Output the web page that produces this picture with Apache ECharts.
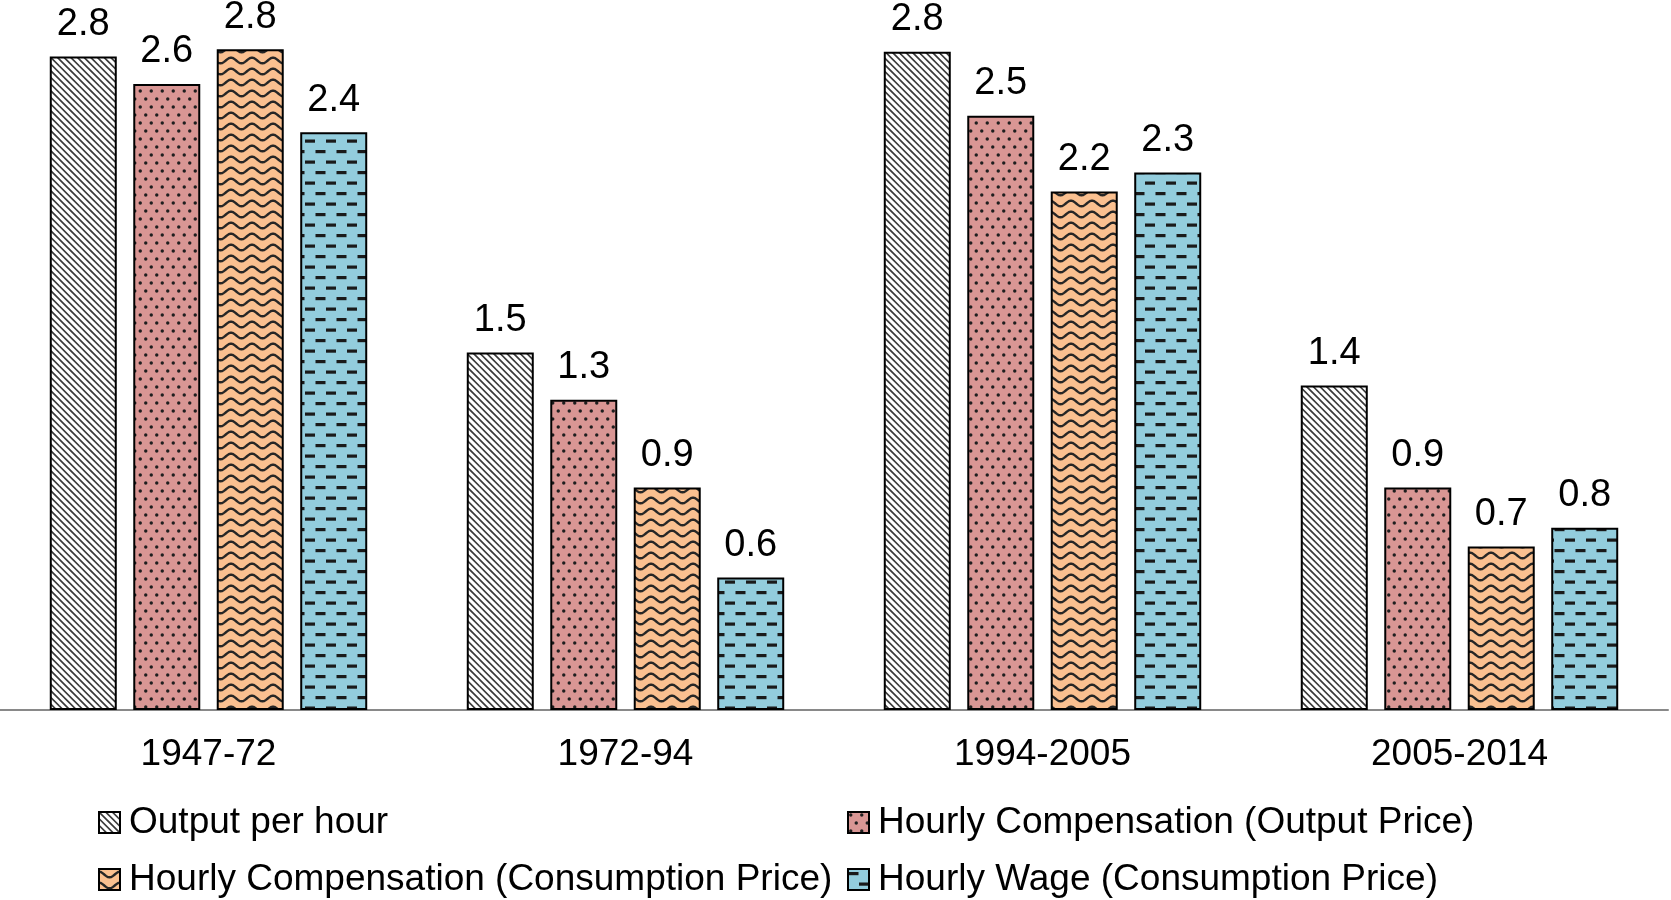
<!DOCTYPE html>
<html>
<head>
<meta charset="utf-8">
<script src="https://cdn.jsdelivr.net/npm/echarts@6/dist/echarts.min.js"></script>
<style>
html,body{margin:0;padding:0;background:#fff;}
#chart{width:1671px;height:900px;}
</style>
</head>
<body>
<div id="chart"></div>
<script>
// ---- data ----
const categories = ['1947-72', '1972-94', '1994-2005', '2005-2014'];
const seriesNames = [
  'Output per hour',
  'Hourly Compensation (Output Price)',
  'Hourly Compensation (Consumption Price)',
  'Hourly Wage (Consumption Price)'
];
const outputPerHour = [2.76, 1.51, 2.78, 1.37];
const compOutputPrice = [2.644, 1.31, 2.51, 0.94];
const compConsumptionPrice = [2.79, 0.94, 2.19, 0.69];
const wageConsumptionPrice = [2.44, 0.56, 2.27, 0.77];

// ---- pattern tiles (style only) ----
function tile(w, h, bg, draw) {
  const c = document.createElement('canvas');
  c.width = w; c.height = h;
  const g = c.getContext('2d');
  g.fillStyle = bg; g.fillRect(0, 0, w, h);
  draw(g, w, h);
  return { image: c, repeat: 'repeat' };
}
const diagPattern = tile(20, 20, '#ffffff', (g) => {
  g.strokeStyle = '#3a3a3a'; g.lineWidth = 1.7;
  const p = 20 / 3;
  for (let k = -6; k <= 6; k++) {
    g.beginPath();
    g.moveTo(k * p - 2, -2);
    g.lineTo(k * p + 22, 22);
    g.stroke();
  }
});
const dotPattern = tile(11, 16, '#D99694', (g) => {
  g.fillStyle = '#1e1e1e';
  [[2.75, 3], [8.25, 11]].forEach(([x, y]) => {
    g.beginPath(); g.arc(x, y, 1.7, 0, Math.PI * 2); g.fill();
  });
});
const wavePattern = tile(21, 11, '#FAC090', (g) => {
  g.strokeStyle = '#262626'; g.lineWidth = 2.4;
  g.beginPath();
  for (let x = -2; x <= 23; x += 0.5) {
    const y = 5.5 - 2.8 * Math.cos(2 * Math.PI * x / 21);
    if (x === -2) g.moveTo(x, y); else g.lineTo(x, y);
  }
  g.stroke();
});
const dashPattern = tile(21, 21, '#93CDDD', (g) => {
  g.fillStyle = '#1a1a1a';
  g.fillRect(0.5, 3, 10, 3.2);
  g.fillRect(11, 13.5, 10, 3.2);
});
const patterns = [diagPattern, dotPattern, wavePattern, dashPattern];
const values = [outputPerHour, compOutputPrice, compConsumptionPrice, wageConsumptionPrice];

const FONT = "'Liberation Sans', Arial, sans-serif";

function legendFor(name, left, top) {
  return {
    data: [name],
    orient: 'horizontal', left: left, top: top, padding: 0,
    itemWidth: 21, itemHeight: 21,
    icon: 'rect',
    textStyle: { fontFamily: FONT, fontSize: 37, color: '#000', lineHeight: 37, padding: [0, 0, 0, 4] }
  };
}

const chart = echarts.init(document.getElementById('chart'), null, { renderer: 'canvas' });
chart.setOption({
  animation: false,
  backgroundColor: '#ffffff',
  grid: { left: 0, right: 3, top: 2, bottom: 190, containLabel: false },
  legend: [
    legendFor(seriesNames[0], 98, 804),
    legendFor(seriesNames[1], 847, 804),
    legendFor(seriesNames[2], 98, 861),
    legendFor(seriesNames[3], 847, 861)
  ],
  xAxis: {
    type: 'category',
    data: categories,
    axisTick: { show: false },
    axisLine: { show: true, lineStyle: { color: '#898989', width: 2 } },
    axisLabel: { fontFamily: FONT, fontSize: 37, color: '#000', margin: 26 },
    splitLine: { show: false }
  },
  yAxis: {
    type: 'value', min: 0, max: 2.99, show: false,
    splitLine: { show: false }
  },
  series: seriesNames.map((name, i) => ({
    name: name,
    type: 'bar',
    data: values[i],
    barWidth: 67,
    barGap: '24.6%',
    itemStyle: { color: patterns[i], borderColor: '#000', borderWidth: 2 },
    label: {
      show: true, position: 'top', distance: 13,
      fontFamily: FONT, fontSize: 38, color: '#000',
      formatter: p => p.value.toFixed(1)
    }
  }))
});
</script>
</body>
</html>
